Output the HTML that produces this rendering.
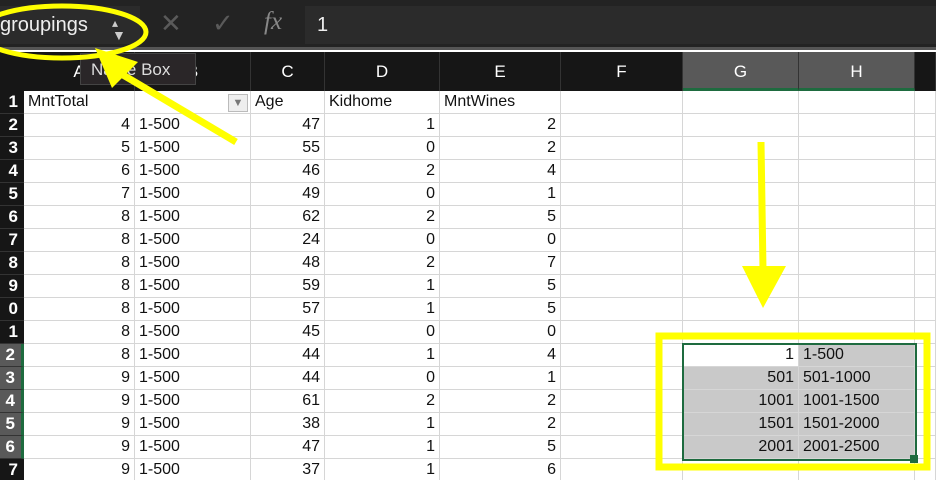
<!DOCTYPE html>
<html><head><meta charset="utf-8"><style>
body{margin:0;width:936px;height:480px;overflow:hidden;background:#fff;font-family:"Liberation Sans",Arial,sans-serif;position:relative}
.a{position:absolute;box-sizing:border-box}
#grid{position:absolute;left:0;top:0;width:936px;height:480px;overflow:hidden}
.cell{position:absolute;box-sizing:border-box;border-right:1px solid #d6d6d6;border-bottom:1px solid #d6d6d6;font-size:16px;line-height:22px;color:#111;padding:0 4px;white-space:nowrap;overflow:hidden}
.ch{position:absolute;box-sizing:border-box;background:#161616;color:#fff;font-size:17px;text-align:center;line-height:39px;border-right:1px solid #333}
.rh{position:absolute;box-sizing:border-box;background:#161616;color:#fff;font-size:17px;font-weight:bold;text-align:right;padding-right:6px;line-height:22px;border-bottom:1px solid #333}
</style></head><body>
<div class="a" style="left:0;top:0;width:936px;height:50px;background:#232323;border-bottom:3px solid #555"></div>
<div class="a" style="left:0;top:6px;width:140px;height:38px;background:#2b2b2b;color:#eee;font-size:20px;line-height:38px">groupings<span style="position:absolute;left:112px;top:-2px;font-size:12px;color:#ccc">▴</span><span style="position:absolute;left:112px;top:10px;font-size:14px;color:#ccc">▼</span></div>
<div class="a" style="left:160px;top:8px;font-size:26px;color:#5a5a5a">✕</div>
<div class="a" style="left:212px;top:8px;font-size:26px;color:#5a5a5a">✓</div>
<div class="a" style="left:264px;top:8px;font-size:25px;color:#888;font-family:'Liberation Serif',serif;font-style:italic">fx</div>
<div class="a" style="left:305px;top:6px;width:631px;height:38px;background:#2b2b2b;color:#eee;font-size:20px;line-height:38px;padding-left:12px">1</div>
<div id="grid">
<div class="a" style="left:0;top:52px;width:24px;height:39px;background:#161616"></div>
</div>
<div class="a" style="left:80px;top:53px;width:116px;height:32px;background:#2a2628;color:#ddd;font-size:17px;line-height:32px;padding-left:10px;border:1px solid #444">Name Box</div>
<div class="a" style="left:682px;top:343px;width:235px;height:118px;border:2px solid #1e6b3f"></div>
<div class="a" style="left:910px;top:455px;width:8px;height:8px;background:#1e6b3f"></div>
<svg class="a" style="left:0;top:0" width="936" height="480">
<ellipse cx="62" cy="32" rx="84" ry="26" fill="none" stroke="#ffff00" stroke-width="5"/>
<line x1="236" y1="142" x2="118" y2="72" stroke="#ffff00" stroke-width="7"/>
<polygon points="95,48 138,62 112,88" fill="#ffff00"/>
<line x1="761" y1="142" x2="763" y2="270" stroke="#ffff00" stroke-width="7"/>
<polygon points="742,266 786,266 763,308" fill="#ffff00"/>
<rect x="659" y="336" width="268" height="131" fill="none" stroke="#ffff00" stroke-width="7"/>
</svg>
<script>
const cols=[["A",24,135],["B",135,251],["C",251,325],["D",325,440],["E",440,561],["F",561,683],["G",683,799],["H",799,915],["",915,936]];
const colA=[4,5,6,7,8,8,8,8,8,8,8,9,9,9,9,9];
const colC=[47,55,46,49,62,24,48,59,57,45,44,44,61,38,47,37];
const colD=[1,0,2,0,2,0,2,1,1,0,1,0,2,1,1,1];
const colE=[2,2,4,1,5,0,7,5,5,0,4,1,2,2,5,6];
const colG=[1,501,1001,1501,2001];
const colH=["1-500","501-1000","1001-1500","1501-2000","2001-2500"];
const g=document.getElementById('grid');
const top0=91,rh=23;
cols.forEach((c,i)=>{const d=document.createElement('div');d.className='ch';


d.style.left=c[1]+'px';d.style.top='52px';d.style.width=(c[2]-c[1])+'px';d.style.height='39px';d.textContent=c[0];
if(c[0]=='G'||c[0]=='H'){d.style.background='#595959';d.style.borderBottom='3px solid #1e6b3f';}
g.appendChild(d);});
for(let r=0;r<17;r++){
 const y=top0+r*rh;const rn=r+1;
 const h=document.createElement('div');h.className='rh';
 
 
 h.style.left='0';h.style.top=y+'px';h.style.width='24px';h.style.height=rh+'px';h.textContent=String(rn%10);
 if(rn>=12&&rn<=16){h.style.background='#595959';h.style.borderRight='3px solid #1e6b3f';}
 g.appendChild(h);
 cols.forEach((c,ci)=>{const d=document.createElement('div');d.className='cell';
  
  
  d.style.left=c[1]+'px';d.style.top=y+'px';d.style.width=(c[2]-c[1])+'px';d.style.height=rh+'px';
  let t='',right=false;
  if(r==0){t=['MntTotal','','Age','Kidhome','MntWines','','','',''][ci];}
  else{const k=r-1;
   if(c[0]=='A'){t=colA[k];right=true}
   if(c[0]=='B'){t='1-500'}
   if(c[0]=='C'){t=colC[k];right=true}
   if(c[0]=='D'){t=colD[k];right=true}
   if(c[0]=='E'){t=colE[k];right=true}
   if(rn>=12&&rn<=16){const j=rn-12;
    if(c[0]=='G'){t=colG[j];right=true;if(j>0)d.style.background='#c9c9c9'}
    if(c[0]=='H'){t=colH[j];d.style.background='#c9c9c9'}}
  }
  d.textContent=t;if(right)d.style.textAlign='right';
  g.appendChild(d);
 });
}
const dd=document.createElement('div');dd.className='a';


dd.style.cssText='left:228px;top:94px;width:20px;height:18px;background:#eee;border:1px solid #bbb;font-size:11px;color:#777;text-align:center;line-height:17px';dd.textContent='▼';
g.appendChild(dd);
</script>
</body></html>
